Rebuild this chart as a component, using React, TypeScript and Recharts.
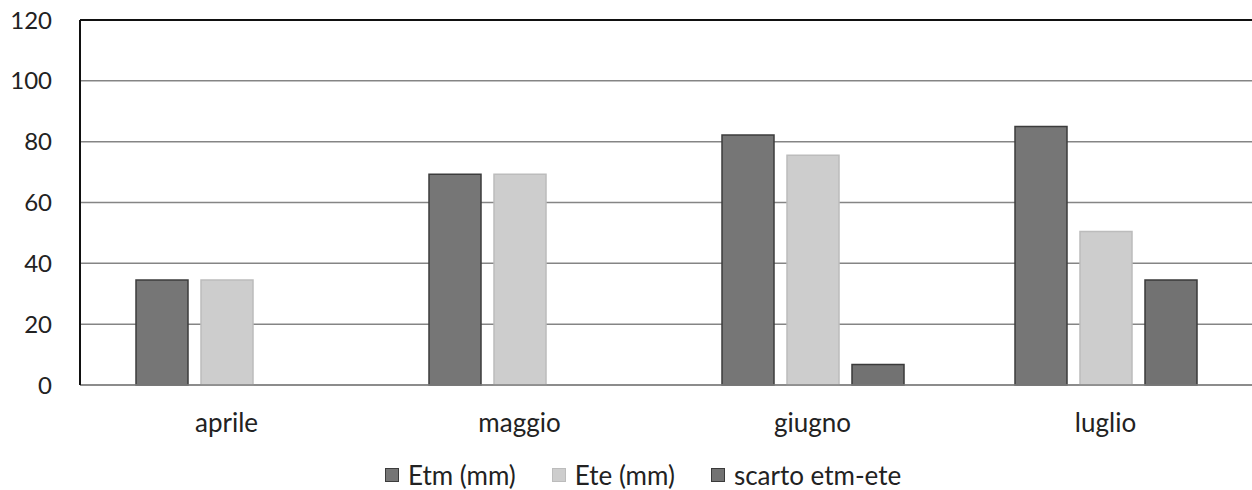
import React from "react";
import {
  BarChart, Bar, XAxis, YAxis, CartesianGrid, Legend, ReferenceLine,
} from "recharts";

const MONTHS = ["aprile", "maggio", "giugno", "luglio"];
const ETM = [34.5, 69.3, 82.2, 85.0];
const ETE = [34.5, 69.3, 75.5, 50.5];
const SCARTO = [0, 0, 6.7, 34.5];
const Y_TICKS = [0, 20, 40, 60, 80, 100, 120];

const SERIES = [
  { key: "etm", name: "Etm (mm)", fill: "#767676", stroke: "#3c3c3c" },
  { key: "ete", name: "Ete (mm)", fill: "#cdcdcd", stroke: "#bcbcbc" },
  { key: "scarto", name: "scarto etm-ete", fill: "#727272", stroke: "#3a3a3a" },
];

const data = MONTHS.map((m, i) => ({
  month: m,
  etm: ETM[i],
  ete: ETE[i],
  scarto: SCARTO[i],
}));

const FONT = "Lato, 'Open Sans', sans-serif";
const TEXT = "#222222";

// keep legend entries in series order
const seriesOrder = (item: any) => SERIES.findIndex((s) => s.name === item.value);

const renderLegend = (props: any) => {
  const { payload = [] } = props;
  return (
    <div style={{ display: "flex", alignItems: "center", paddingLeft: 385, fontFamily: FONT, fontSize: 26, color: TEXT, lineHeight: "30px" }}>
      {payload.map((entry: any, i: number) => (
        <div key={i} style={{ display: "flex", alignItems: "center", marginRight: i < payload.length - 1 ? 36 : 0 }}>
          <span style={{ width: 12, height: 12, background: entry.payload?.fill ?? entry.color, border: `1px solid ${entry.payload?.stroke ?? entry.color}`, marginRight: 9, display: "inline-block" }} />
          <span>{entry.value}</span>
        </div>
      ))}
    </div>
  );
};

export default function App() {
  return (
    <div style={{ position: "absolute", left: 0, top: 0, width: 1252, height: 490, background: "#fff" }}>
      <BarChart
        width={1252}
        height={490}
        data={data}
        margin={{ top: 20, right: 0, left: 0, bottom: 45 }}
        barCategoryGap={56}
        barGap={13}
      >
        <CartesianGrid vertical={false} stroke="#858585" strokeWidth={1.5} />
        <XAxis
          dataKey="month"
          height={60}
          tickLine={false}
          axisLine={{ stroke: "#858585", strokeWidth: 1.5 }}
          tickMargin={23}
          tick={{ fill: TEXT, fontSize: 26, fontFamily: FONT }}
        />
        <YAxis
          width={80}
          domain={[0, 120]}
          ticks={Y_TICKS}
          interval={0}
          tickLine={false}
          tickSize={0}
          tickMargin={28}
          axisLine={{ stroke: "#111", strokeWidth: 2 }}
          tick={{ fill: TEXT, fontSize: 24, fontFamily: FONT }}
        />
        <ReferenceLine y={120} stroke="#111" strokeWidth={2} />
        {SERIES.map((s) => (
          <Bar
            key={s.key}
            dataKey={s.key}
            name={s.name}
            fill={s.fill}
            stroke={s.stroke}
            strokeWidth={1.5}
            isAnimationActive={false}
          />
        ))}
        <Legend
          layout="horizontal"
          verticalAlign="middle"
          align="center"
          itemSorter={seriesOrder}
          wrapperStyle={{ top: 460, left: 0, width: 1252 }}
          content={renderLegend}
        />
      </BarChart>
    </div>
  );
}
